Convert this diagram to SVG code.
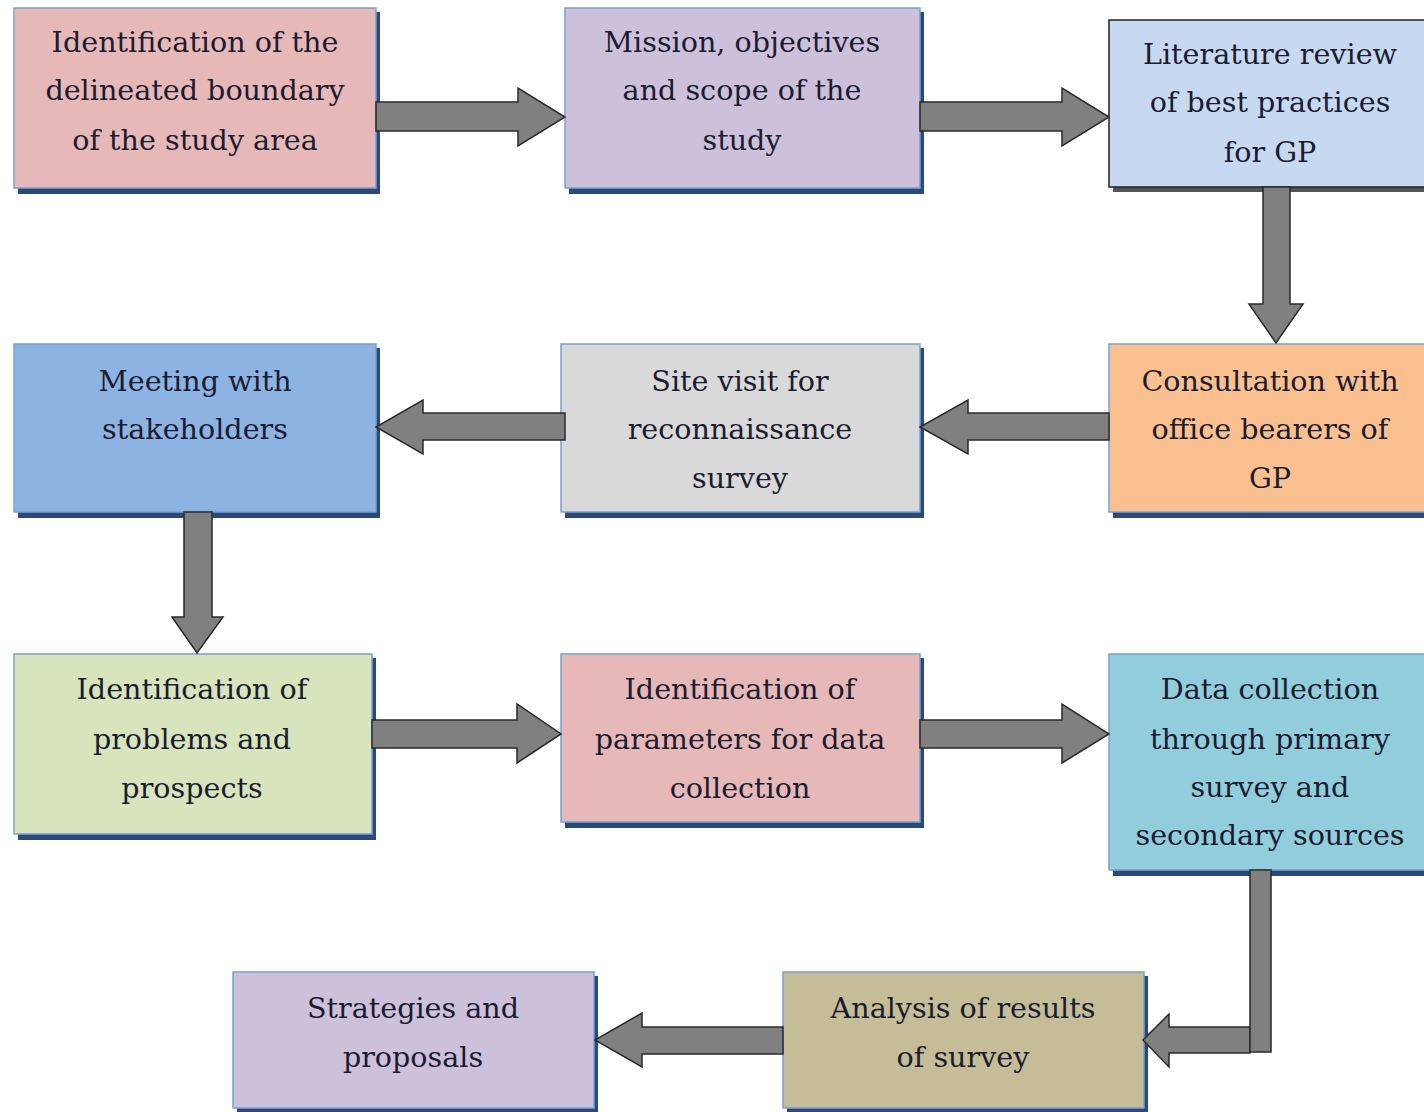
<svg xmlns="http://www.w3.org/2000/svg" width="1424" height="1112" viewBox="0 0 1424 1112">
<style>
.sh{fill:#2b4a78}
.bx{stroke:#7aa0d4;stroke-width:1.5}
.t{font-family:"DejaVu Serif",serif;font-size:28.6px;fill:#1c1c30;text-anchor:middle}
.ar{fill:#808080;stroke:#2a2a2a;stroke-width:1.5;stroke-linejoin:miter}
</style>
<rect width="1424" height="1112" fill="#ffffff"/>
<g id="n1"><rect class="sh" x="18" y="12" width="362" height="182"/><rect class="bx" x="14" y="8" width="362" height="180" fill="#e6b8b7"/>
<text class="t" x="195" y="52">Identification of the</text><text class="t" x="195" y="100">delineated boundary</text><text class="t" x="195" y="150">of the study area</text></g>
<g id="n2"><rect class="sh" x="569" y="12" width="355" height="182"/><rect class="bx" x="565" y="8" width="355" height="180" fill="#ccc0da"/>
<text class="t" x="742" y="52">Mission, objectives</text><text class="t" x="742" y="100">and scope of the</text><text class="t" x="742" y="150">study</text></g>
<g id="n3"><rect x="1113" y="24" width="320" height="168" fill="#555"/><rect x="1109" y="20" width="320" height="167" fill="#c6d9f0" stroke="#222" stroke-width="1.5"/>
<text class="t" x="1270" y="64">Literature review</text><text class="t" x="1270" y="112">of best practices</text><text class="t" x="1270" y="162">for GP</text></g>
<g id="n4"><rect class="sh" x="18" y="348" width="362" height="170"/><rect class="bx" x="14" y="344" width="362" height="168" fill="#8db3e2"/>
<text class="t" x="195" y="391">Meeting with</text><text class="t" x="195" y="439">stakeholders</text></g>
<g id="n5"><rect class="sh" x="565" y="348" width="359" height="170"/><rect class="bx" x="561" y="344" width="359" height="168" fill="#d9d9d9"/>
<text class="t" x="740" y="391">Site visit for</text><text class="t" x="740" y="439">reconnaissance</text><text class="t" x="740" y="488">survey</text></g>
<g id="n6"><rect class="sh" x="1113" y="348" width="320" height="170"/><rect class="bx" x="1109" y="344" width="320" height="168" fill="#fac090"/>
<text class="t" x="1270" y="391">Consultation with</text><text class="t" x="1270" y="439">office bearers of</text><text class="t" x="1270" y="488">GP</text></g>
<g id="n7"><rect class="sh" x="18" y="658" width="358" height="182"/><rect class="bx" x="14" y="654" width="358" height="180" fill="#d7e4bc"/>
<text class="t" x="192" y="699">Identification of</text><text class="t" x="192" y="749">problems and</text><text class="t" x="192" y="798">prospects</text></g>
<g id="n8"><rect class="sh" x="565" y="658" width="359" height="170"/><rect class="bx" x="561" y="654" width="359" height="168" fill="#e6b8b7"/>
<text class="t" x="740" y="699">Identification of</text><text class="t" x="740" y="749">parameters for data</text><text class="t" x="740" y="798">collection</text></g>
<g id="n9"><rect class="sh" x="1113" y="658" width="320" height="218"/><rect class="bx" x="1109" y="654" width="320" height="216" fill="#92cddc"/>
<text class="t" x="1270" y="699">Data collection</text><text class="t" x="1270" y="749">through primary</text><text class="t" x="1270" y="797">survey and</text><text class="t" x="1270" y="845">secondary sources</text></g>
<g id="n10"><rect class="sh" x="237" y="976" width="361" height="140"/><rect class="bx" x="233" y="972" width="361" height="136" fill="#ccc0da"/>
<text class="t" x="413" y="1018">Strategies and</text><text class="t" x="413" y="1067">proposals</text></g>
<g id="n11"><rect class="sh" x="787" y="976" width="361" height="140"/><rect class="bx" x="783" y="972" width="361" height="136" fill="#c4bd97"/>
<text class="t" x="963" y="1018">Analysis of results</text><text class="t" x="963" y="1067">of survey</text></g>
<g id="connectors">
<polygon class="ar" points="376,102 518,102 518,88 565,117 518,146 518,131 376,131"/>
<polygon class="ar" points="920,102 1062,102 1062,88 1109,117 1062,146 1062,131 920,131"/>
<polygon class="ar" points="1263,187 1290,187 1290,304 1303,304 1276,343 1249,304 1263,304"/>
<polygon class="ar" points="1109,413 968,413 968,400 920,427 968,454 968,440 1109,440"/>
<polygon class="ar" points="565,413 423,413 423,400 376,427 423,454 423,440 565,440"/>
<polygon class="ar" points="184,512 212,512 212,617 223,617 197,653 172,617 184,617"/>
<polygon class="ar" points="372,720 517,720 517,704 561,734 517,763 517,748 372,748"/>
<polygon class="ar" points="920,720 1062,720 1062,704 1109,734 1062,763 1062,748 920,748"/>
<polygon class="ar" points="1250,1027 1169,1027 1169,1014 1143,1040 1169,1067 1169,1053 1250,1053"/>
<rect class="ar" x="1250" y="870" width="21" height="182"/>
<polygon class="ar" points="783,1027 642,1027 642,1013 595,1040 642,1067 642,1054 783,1054"/>
</g>
</svg>
